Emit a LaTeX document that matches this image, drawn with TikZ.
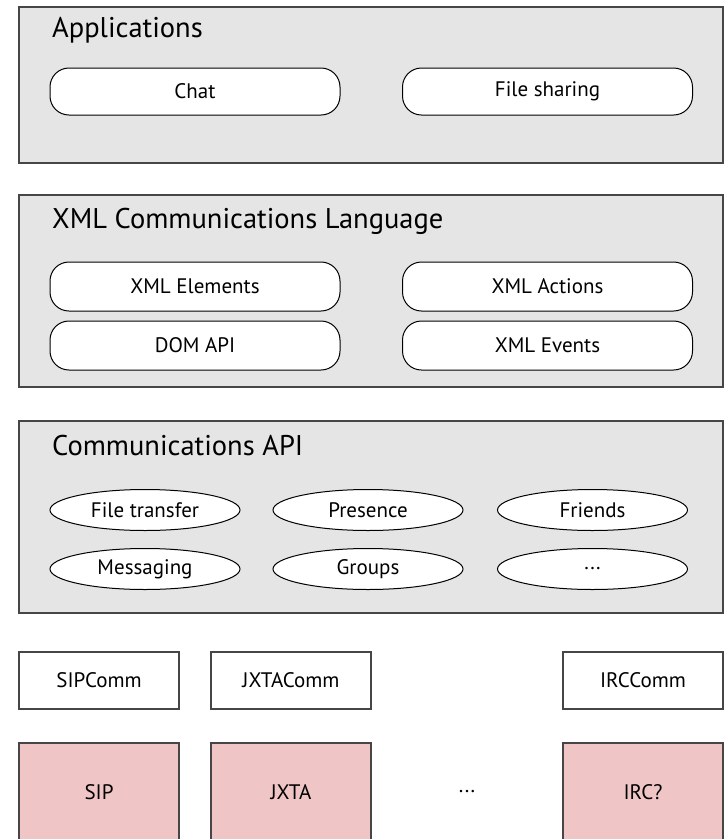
\documentclass[tikz,border=0pt]{standalone}
\usepackage{fontspec}
\setmainfont{PT Sans}
\usetikzlibrary{shapes.geometric}
\definecolor{layergray}{RGB}{229,229,229}
\definecolor{protopink}{RGB}{239,197,197}
\definecolor{edgegray}{RGB}{70,70,70}
\begin{document}
\begin{tikzpicture}[x=1pt,y=-1pt,
  layer/.style={draw=edgegray,line width=1.3pt,fill=layergray,rectangle,inner sep=0pt,minimum width=704pt},
  title/.style={anchor=west,font=\fontsize{28.5}{33}\selectfont,inner sep=0pt},
  lbl/.style={font=\fontsize{21}{25}\selectfont,inner sep=0pt},
  pill/.style={lbl,draw=black,line width=1pt,fill=white,rounded corners=19pt,minimum width=290pt,minimum height=47pt},
  oval/.style={lbl,draw=black,line width=1pt,fill=white,ellipse,minimum width=190pt,minimum height=41pt},
  commbox/.style={lbl,draw=edgegray,line width=1.3pt,fill=white,minimum width=160pt,minimum height=57pt},
  protobox/.style={draw=edgegray,line width=1.3pt,fill=protopink,minimum width=160pt,minimum height=110pt,inner sep=0pt}]
\useasboundingbox (0,0) rectangle (725,839);
\fill[white] (0,0) rectangle (725,839);
% Applications
\node[layer,minimum height=156pt] (app) at (371,85) {};
\node[title] (apptitle) at (52,30) {Applications};
\node[pill] (chat) at (195,91.5) {Chat};
\node[pill] (share) at (547.5,91.5) {File sharing};
% XML
\node[layer,minimum height=192pt] (xml) at (371,291) {};
\node[title] (xmltitle) at (52,221) {XML Communications Language};
\node[pill,minimum height=49pt] (elem) at (195,286.5) {XML Elements};
\node[pill,minimum height=49pt] (act) at (547.5,286.5) {XML Actions};
\node[pill,minimum height=49pt] (dom) at (195,345.5) {DOM API};
\node[pill,minimum height=49pt] (evt) at (547.5,345.5) {XML Events};
% Communications API
\node[layer,minimum height=192pt] (api) at (371,517) {};
\node[title] (apititle) at (52,446) {Communications API};
\node[oval] (ft) at (145,510) {File transfer};
\node[oval] (pres) at (368,510) {Presence};
\node[oval] (fr) at (592.5,510) {Friends};
\node[oval] (msg) at (145,569) {Messaging};
\node[oval] (grp) at (368,569) {Groups};
\node[oval] (more) at (592.5,569) {...};
% Comm modules
\node[commbox] (sipc) at (99,680.5) {SIPComm};
\node[commbox] (jxtac) at (291,680.5) {JXTAComm};
\node[commbox] (ircc) at (643,680.5) {IRCComm};
% protocols
\begin{scope}
\clip (0,0) rectangle (725,839);
\node[protobox] (sip) at (99,798) {};
\node[protobox] (jxta) at (291,798) {};
\node[protobox] (irc) at (643,798) {};
\end{scope}
\node[lbl] (siplbl) at (99,792) {SIP};
\node[lbl] (jxtalbl) at (291,792) {JXTA};
\node[lbl] (dots) at (467,792) {...};
\node[lbl] (irclbl) at (643,792) {IRC?};
\end{tikzpicture}
\end{document}
